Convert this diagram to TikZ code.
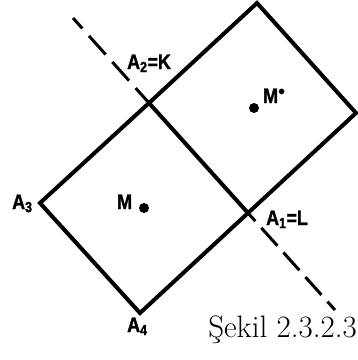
\documentclass[tikz,border=0pt]{standalone}
\usepackage{fontspec}
\newfontfamily\labfont[FakeStretch=0.85,FakeBold=1.5]{Liberation Sans Bold}
\begin{document}
\begin{tikzpicture}[x=1pt,y=-1pt,
  sq/.style={line width=4pt,line join=miter},
  dsh/.style={line width=3pt},
  lab/.style={inner sep=0pt,font=\labfont\fontsize{21}{24}\selectfont},
  pt/.style={circle,fill=black,inner sep=0pt,minimum size=10pt}]
\useasboundingbox (0,0) rectangle (358,360);
\coordinate (A3) at (40,203);
\coordinate (A4) at (140,313);
\coordinate (A1) at (248,213);
\coordinate (A2) at (149,103);
\coordinate (T) at (257,3);
\coordinate (R) at (356,113);
\coordinate (D1) at (73,18);
\coordinate (D2) at (335,310);
% dashed line
\draw[dsh,dash pattern=on 25pt off 10pt,dash phase=11pt] (D1) -- (A2);
\draw[dsh,dash pattern=on 24pt off 9pt,dash phase=13pt] (A1) -- (D2);
% squares
\draw[sq] (A3) -- (A4) -- (A1) -- (A2) -- cycle;
\draw[sq] (A2) -- (T) -- (R) -- (A1);
% centres
\node[pt] (M) at (144,208) {};
\node[pt] (Mp) at (254,108) {};
% labels
\node[lab,anchor=base west] (lA2) at (127,69) {A\textsubscript{2}=K};
\node[lab,anchor=base west] (lA1) at (266,225) {A\textsubscript{1}=L};
\node[lab,anchor=base west] (lA3) at (12,209) {A\textsubscript{3}};
\node[lab,anchor=base west] (lA4) at (127,332) {A\textsubscript{4}};
\node[lab,anchor=base west] (lM) at (117,209) {M};
\node[lab,anchor=base west] (lMp) at (263,103) {M$^{\bullet}$};
\node[inner sep=0pt,anchor=base east,font=\fontsize{31}{36}\selectfont] (cap) at (357,337) {Şekil 2.3.2.3};
\end{tikzpicture}
\end{document}
